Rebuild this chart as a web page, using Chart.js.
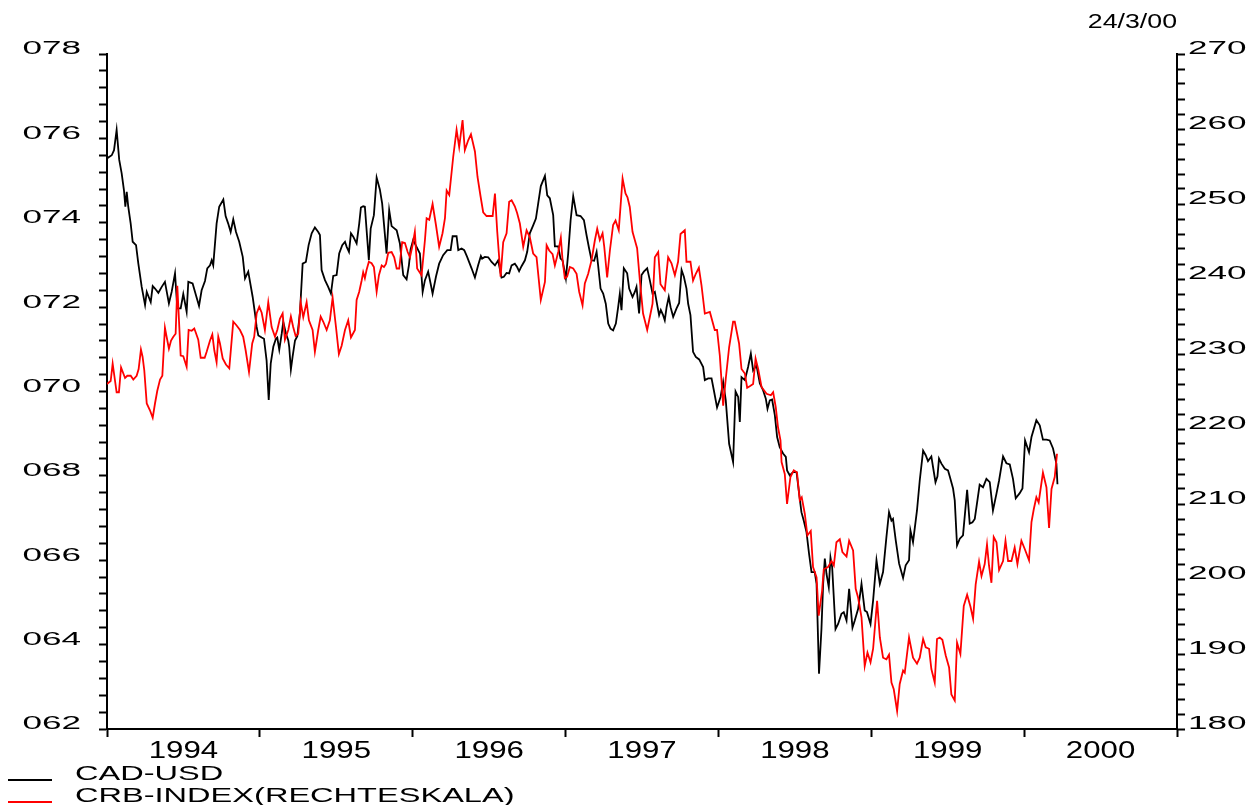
<!DOCTYPE html>
<html>
<head>
<meta charset="utf-8">
<title>CAD-USD vs CRB-Index</title>
<script src="https://cdn.jsdelivr.net/npm/chart.js@4.4.1/dist/chart.umd.min.js"></script>
<style>
  html, body { margin: 0; padding: 0; background: #fff; }
  #wrap { width: 1249px; height: 805px; }
</style>
</head>
<body>
<div id="wrap"><canvas id="chart" width="1249" height="805"></canvas></div>
<script>
// CAD-USD, weekly, left scale (decimal year, value)
const cadDates = [
  1994.002,1994.031,1994.046,1994.063,1994.080,1994.096,1994.111,1994.120,1994.129,1994.139,1994.155,1994.168,1994.190,1994.205,1994.227,1994.249,1994.260,1994.273,1994.286,1994.299,1994.314,1994.336,1994.358,1994.379,1994.405,1994.423,1994.445,1994.460,1994.482,1994.499,1994.521,1994.532,1994.560,1994.582,1994.602,1994.619,1994.641,1994.656,1994.674,1994.685,1994.695,1994.717,1994.734,1994.761,1994.776,1994.793,1994.809,1994.826,1994.844,1994.865,1994.888,1994.903,1994.924,1994.953,1994.968,1994.979,1994.990,
  1995.012,1995.027,1995.044,1995.058,1995.071,1995.088,1995.105,1995.114,1995.127,1995.143,1995.153,1995.171,1995.186,1995.192,1995.203,1995.214,1995.230,1995.245,1995.262,1995.280,1995.301,1995.319,1995.339,1995.360,1995.382,1995.393,1995.404,1995.426,1995.447,1995.465,1995.480,1995.502,1995.519,1995.539,1995.557,1995.568,1995.583,1995.596,1995.611,1995.633,1995.650,1995.661,1995.676,1995.687,1995.713,1995.725,1995.746,1995.764,1995.785,1995.800,1995.829,1995.846,1995.862,1995.895,1995.916,1995.938,1995.960,1995.975,1995.986,
  1996.003,1996.025,1996.047,1996.065,1996.080,1996.101,1996.117,1996.130,1996.152,1996.173,1996.199,1996.226,1996.248,1996.261,1996.287,1996.298,1996.320,1996.337,1996.356,1996.385,1996.407,1996.428,1996.446,1996.454,1996.472,1996.494,1996.516,1996.538,1996.559,1996.581,1996.596,1996.614,1996.631,1996.647,1996.668,1996.683,1996.696,1996.712,1996.734,1996.749,1996.766,1996.788,1996.806,1996.821,1996.838,1996.865,1996.880,1996.897,1996.919,1996.930,1996.952,1996.967,1996.980,
  1997.002,1997.017,1997.033,1997.050,1997.072,1997.098,1997.120,1997.137,1997.154,1997.170,1997.187,1997.203,1997.213,1997.229,1997.246,1997.263,1997.279,1997.294,1997.311,1997.329,1997.344,1997.355,1997.366,1997.381,1997.403,1997.416,1997.438,1997.453,1997.464,1997.481,1997.497,1997.512,1997.534,1997.551,1997.569,1997.584,1997.602,1997.612,1997.623,1997.638,1997.649,1997.661,1997.675,1997.687,1997.704,1997.726,1997.743,1997.759,1997.774,1997.791,1997.802,1997.817,1997.834,1997.852,1997.874,1997.900,1997.911,1997.933,1997.955,1997.970,1997.991,
  1998.014,1998.031,1998.048,1998.070,1998.096,1998.112,1998.129,1998.140,1998.151,1998.173,1998.194,1998.212,1998.227,1998.249,1998.271,1998.292,1998.310,1998.321,1998.336,1998.351,1998.369,1998.384,1998.401,1998.423,1998.441,1998.449,1998.467,1998.488,1998.511,1998.528,1998.543,1998.558,1998.576,1998.593,1998.609,1998.630,1998.642,1998.658,1998.674,1998.685,1998.696,1998.707,1998.722,1998.733,1998.744,1998.766,1998.783,1998.805,1998.820,1998.838,1998.855,1998.877,1998.892,1998.914,1998.936,1998.957,1998.972,1998.995,
  1999.012,1999.034,1999.056,1999.077,1999.099,1999.116,1999.132,1999.142,1999.160,1999.182,1999.208,1999.225,1999.247,1999.256,1999.273,1999.299,1999.317,1999.339,1999.356,1999.371,1999.393,1999.404,1999.420,1999.433,1999.443,1999.459,1999.481,1999.502,1999.513,1999.535,1999.546,1999.561,1999.579,1999.600,1999.627,1999.644,1999.662,1999.677,1999.709,1999.731,1999.753,1999.775,1999.796,1999.819,1999.836,1999.862,1999.884,1999.906,1999.927,1999.945,1999.971,1999.989,2000.006,2000.032,2000.048,2000.080,2000.102,2000.123,2000.146,2000.167,2000.189,2000.211,2000.218
];
const cadValues = [
  0.7553,0.7560,0.7572,0.7620,0.7549,0.7517,0.7477,0.7438,0.7473,0.7438,0.7398,0.7355,0.7347,0.7303,0.7248,0.7205,0.7236,0.7224,0.7212,0.7250,0.7244,0.7234,0.7248,0.7260,0.7209,0.7236,0.7280,0.7197,0.7197,0.7231,0.7189,0.7260,0.7256,0.7228,0.7203,0.7240,0.7262,0.7292,0.7299,0.7311,0.7299,0.7398,0.7438,0.7455,0.7416,0.7398,0.7378,0.7408,0.7378,0.7355,0.7319,0.7268,0.7284,0.7224,0.7185,0.7153,0.7133,
  0.7128,0.7125,0.7074,0.6980,0.7066,0.7106,0.7125,0.7128,0.7099,0.7137,0.7165,0.7137,0.7121,0.7106,0.7052,0.7082,0.7121,0.7131,0.7185,0.7303,0.7307,0.7347,0.7375,0.7389,0.7378,0.7371,0.7288,0.7264,0.7248,0.7232,0.7274,0.7276,0.7327,0.7347,0.7355,0.7343,0.7331,0.7375,0.7367,0.7351,0.7398,0.7436,0.7439,0.7438,0.7311,0.7386,0.7418,0.7507,0.7479,0.7446,0.7327,0.7430,0.7392,0.7382,0.7351,0.7276,0.7266,0.7299,0.7337,
  0.7359,0.7343,0.7327,0.7236,0.7264,0.7284,0.7256,0.7232,0.7272,0.7303,0.7323,0.7335,0.7335,0.7368,0.7368,0.7335,0.7339,0.7335,0.7319,0.7292,0.7270,0.7299,0.7321,0.7315,0.7319,0.7318,0.7307,0.7299,0.7311,0.7270,0.7272,0.7281,0.7280,0.7299,0.7303,0.7295,0.7285,0.7297,0.7311,0.7331,0.7375,0.7394,0.7410,0.7446,0.7487,0.7511,0.7465,0.7458,0.7418,0.7344,0.7344,0.7315,0.7311,
  0.7268,0.7327,0.7406,0.7463,0.7418,0.7416,0.7406,0.7371,0.7339,0.7311,0.7310,0.7331,0.7299,0.7244,0.7232,0.7208,0.7161,0.7149,0.7145,0.7161,0.7200,0.7232,0.7193,0.7292,0.7280,0.7244,0.7224,0.7236,0.7248,0.7185,0.7276,0.7284,0.7292,0.7264,0.7232,0.7236,0.7200,0.7181,0.7193,0.7181,0.7169,0.7200,0.7224,0.7200,0.7177,0.7197,0.7210,0.7288,0.7272,0.7244,0.7208,0.7181,0.7094,0.7082,0.7076,0.7058,0.7027,0.7031,0.7031,0.7003,0.6962,
  0.6987,0.7023,0.6979,0.6876,0.6833,0.7000,0.6987,0.6928,0.7034,0.7027,0.7058,0.7090,0.7050,0.7062,0.7019,0.7003,0.6983,0.6959,0.6979,0.6981,0.6944,0.6892,0.6868,0.6853,0.6845,0.6813,0.6801,0.6809,0.6809,0.6758,0.6714,0.6694,0.6667,0.6615,0.6572,0.6572,0.6544,0.6331,0.6437,0.6544,0.6604,0.6568,0.6536,0.6607,0.6584,0.6437,0.6449,0.6473,0.6477,0.6457,0.6532,0.6440,0.6457,0.6485,0.6544,0.6481,0.6477,0.6449,
  0.6505,0.6600,0.6544,0.6572,0.6655,0.6714,0.6694,0.6698,0.6647,0.6592,0.6558,0.6588,0.6600,0.6671,0.6643,0.6718,0.6789,0.6860,0.6849,0.6835,0.6846,0.6821,0.6785,0.6799,0.6841,0.6829,0.6817,0.6813,0.6799,0.6770,0.6742,0.6635,0.6651,0.6659,0.6767,0.6687,0.6690,0.6698,0.6779,0.6773,0.6793,0.6785,0.6718,0.6758,0.6789,0.6846,0.6830,0.6827,0.6793,0.6747,0.6759,0.6770,0.6884,0.6856,0.6892,0.6932,0.6920,0.6886,0.6886,0.6884,0.6865,0.6829,0.6780
];

// CRB index, weekly, right scale
const crbDates = [
  1994.000,1994.024,1994.037,1994.063,1994.078,1994.092,1994.107,1994.118,1994.133,1994.155,1994.172,1994.194,1994.207,1994.222,1994.233,1994.244,1994.260,1994.281,1994.299,1994.314,1994.329,1994.347,1994.362,1994.379,1994.390,1994.405,1994.419,1994.434,1994.449,1994.460,1994.482,1994.499,1994.521,1994.534,1994.554,1994.571,1994.580,1994.597,1994.613,1994.639,1994.652,1994.674,1994.689,1994.702,1994.717,1994.728,1994.739,1994.757,1994.778,1994.800,1994.826,1994.848,1994.870,1994.891,1994.907,1994.929,1994.950,1994.963,1994.979,1994.996,
  1995.012,1995.033,1995.055,1995.077,1995.099,1995.114,1995.131,1995.149,1995.164,1995.186,1995.203,1995.218,1995.234,1995.251,1995.267,1995.284,1995.306,1995.321,1995.345,1995.360,1995.382,1995.398,1995.415,1995.437,1995.458,1995.476,1995.498,1995.517,1995.535,1995.557,1995.578,1995.596,1995.622,1995.633,1995.650,1995.666,1995.676,1995.687,1995.698,1995.713,1995.731,1995.746,1995.764,1995.779,1995.797,1995.812,1995.825,1995.840,1995.862,1995.879,1995.895,1995.912,1995.931,1995.949,1995.967,1995.982,
  1995.999,1996.014,1996.029,1996.058,1996.080,1996.091,1996.108,1996.130,1996.152,1996.173,1996.195,1996.211,1996.222,1996.239,1996.265,1996.287,1996.304,1996.326,1996.341,1996.363,1996.381,1996.407,1996.424,1996.444,1996.461,1996.483,1996.523,1996.538,1996.553,1996.575,1996.592,1996.614,1996.631,1996.647,1996.668,1996.683,1996.701,1996.723,1996.745,1996.766,1996.788,1996.810,1996.838,1996.865,1996.876,1996.893,1996.915,1996.930,1996.952,1996.969,1996.980,1996.995,
  1997.010,1997.028,1997.050,1997.072,1997.089,1997.111,1997.126,1997.148,1997.170,1997.192,1997.207,1997.224,1997.242,1997.253,1997.272,1997.290,1997.311,1997.327,1997.348,1997.373,1997.392,1997.405,1997.420,1997.438,1997.453,1997.468,1997.486,1997.507,1997.534,1997.551,1997.569,1997.584,1997.606,1997.621,1997.649,1997.671,1997.693,1997.715,1997.736,1997.752,1997.780,1997.791,1997.817,1997.834,1997.852,1997.872,1997.889,1997.911,1997.944,1997.976,1997.991,
  1998.009,1998.020,1998.031,1998.048,1998.070,1998.096,1998.107,1998.135,1998.151,1998.173,1998.188,1998.205,1998.227,1998.243,1998.260,1998.282,1998.315,1998.343,1998.358,1998.375,1998.390,1998.406,1998.413,1998.434,1998.449,1998.471,1998.493,1998.514,1998.532,1998.545,1998.565,1998.582,1998.604,1998.619,1998.642,1998.656,1998.678,1998.689,1998.717,1998.740,1998.755,1998.772,1998.794,1998.811,1998.838,1998.855,1998.881,1998.898,1998.914,1998.936,1998.957,1998.975,1998.995,
  1999.012,1999.038,1999.056,1999.077,1999.099,1999.116,1999.132,1999.147,1999.169,1999.186,1999.208,1999.219,1999.247,1999.273,1999.299,1999.317,1999.339,1999.356,1999.378,1999.393,1999.415,1999.430,1999.448,1999.465,1999.487,1999.509,1999.524,1999.546,1999.561,1999.583,1999.605,1999.627,1999.649,1999.666,1999.683,1999.705,1999.721,1999.742,1999.757,1999.770,1999.786,1999.801,1999.819,1999.836,1999.862,1999.878,1999.895,1999.917,1999.938,1999.956,1999.982,2000.004,2000.032,2000.048,2000.063,2000.080,2000.095,2000.123,2000.146,2000.163,2000.179,2000.200,2000.215
];
const crbValues = [
  226.0,226.4,228.7,224.9,224.9,228.2,227.4,226.8,227.1,227.1,226.6,227.1,228.0,230.6,229.6,227.8,223.4,222.5,221.5,223.4,225.1,226.6,227.1,233.5,232.3,230.7,231.8,232.3,232.7,239.1,229.8,229.7,228.3,233.2,233.1,233.4,232.9,231.9,229.5,229.5,230.3,231.8,232.6,230.5,228.9,232.3,231.4,229.4,228.6,228.1,234.3,233.8,233.2,232.3,230.5,227.6,231.4,232.3,235.4,236.3,
  235.5,233.2,236.9,233.6,232.3,233.2,234.7,235.4,231.9,233.2,235.0,233.6,232.4,232.7,236.9,234.9,236.9,234.5,233.2,230.3,233.2,235.0,234.3,233.2,234.5,237.5,233.6,230.0,231.1,233.2,234.5,232.2,233.2,237.2,238.3,239.8,240.9,240.1,241.2,242.3,242.1,241.6,238.3,240.5,241.8,241.6,242.0,243.5,243.6,242.9,241.4,241.4,244.9,244.8,243.6,242.9,
  244.5,246.3,241.4,240.5,245.2,248.1,247.9,250.0,247.2,244.3,246.1,248.1,251.8,251.2,256.3,259.9,257.6,261.2,257.2,258.5,259.3,257.0,253.6,251.0,248.9,248.4,248.4,251.4,246.3,240.3,244.9,246.1,250.3,250.5,249.7,248.8,247.4,244.3,246.5,245.6,243.4,242.9,237.2,239.6,244.5,243.8,243.3,241.8,243.6,245.5,242.6,240.1,
  240.3,241.6,241.4,240.7,238.3,236.5,239.4,240.7,242.5,245.2,246.7,245.2,246.1,244.3,240.2,243.8,247.2,247.8,246.5,253.4,251.4,250.9,249.6,246.3,245.2,244.1,239.8,235.4,233.2,234.9,236.7,242.9,243.6,239.3,238.5,242.9,242.1,240.5,242.3,246.0,246.5,242.3,242.3,239.8,240.7,241.5,239.2,235.4,235.6,233.2,233.2,
  229.8,226.5,223.1,226.7,230.9,234.3,234.3,231.4,228.0,227.4,225.5,225.7,226.0,229.4,228.0,225.6,224.7,224.5,224.9,222.9,220.2,218.5,215.6,214.0,210.0,213.6,214.5,214.2,210.5,210.9,208.7,205.8,206.4,201.6,200.2,195.1,198.4,201.3,201.6,202.4,201.8,204.9,205.3,203.6,203.0,205.1,203.8,198.7,197.5,194.9,188.4,190.2,188.9,
  190.7,197.1,192.2,189.5,189.3,189.9,186.2,185.3,182.4,186.0,187.8,187.5,192.2,189.5,188.7,189.5,192.0,190.9,190.7,188.0,186.2,192.0,192.2,191.9,189.8,188.2,184.6,183.8,191.5,190.0,196.4,197.9,196.3,194.7,199.3,202.3,200.4,202.0,204.6,201.8,199.5,205.6,204.9,201.2,202.4,205.1,202.4,202.4,204.2,202.0,205.1,204.0,202.5,207.6,209.3,210.9,210.2,214.2,212.2,206.8,212.0,213.6,216.7
];

const seriesNames = ['CAD-USD', 'CRB-INDEX(RECHTESKALA)'];
const yearTicks = [1994, 1995, 1996, 1997, 1998, 1999, 2000, 2001];
const yearLabels = ['1994', '1995', '1996', '1997', '1998', '1999', '2000'];
const leftTicks = [0.62, 0.64, 0.66, 0.68, 0.70, 0.72, 0.74, 0.76, 0.78];
const leftLabels = ['062', '064', '066', '068', '070', '072', '074', '076', '078'];
const rightTicks = [180, 190, 200, 210, 220, 230, 240, 250, 260, 270];
const rightLabels = ['180', '190', '200', '210', '220', '230', '240', '250', '260', '270'];
const dateStamp = '24/3/00';

if (cadDates.length !== cadValues.length || crbDates.length !== crbValues.length) {
  console.warn('series length mismatch', cadDates.length, cadValues.length, crbDates.length, crbValues.length);
}

const FONT = '"Liberation Sans", Arial, sans-serif';

// text in the original is drawn horizontally stretched
function wideText(ctx, text, x, y, size, sx, align) {
  ctx.save();
  ctx.font = size + 'px ' + FONT;
  ctx.textBaseline = 'middle';
  ctx.textAlign = 'left';
  const w = ctx.measureText(text).width * sx;
  let left = x;
  if (align === 'right') left = x - w;
  if (align === 'center') left = x - w / 2;
  ctx.translate(left, y);
  ctx.scale(sx, 1);
  ctx.fillText(text, 0, 0);
  ctx.restore();
}

function minorTicks(min, max, step) {
  const out = [];
  const n = Math.round((max - min) / step);
  for (let i = 0; i <= n; i++) out.push({ value: +(min + i * step).toFixed(6) });
  return out;
}

const labelPlugin = {
  id: 'wideLabels',
  afterDraw(chart) {
    const ctx = chart.ctx;
    const { x, y, y2 } = chart.scales;
    ctx.save();
    ctx.fillStyle = '#000';
    leftTicks.forEach((v, i) => {
      wideText(ctx, leftLabels[i], y.right - 26, y.getPixelForValue(v) - 4.5, 18, 1.95, 'right');
    });
    rightTicks.forEach((v, i) => {
      wideText(ctx, rightLabels[i], y2.left + 11, y2.getPixelForValue(v) - 4.5, 18, 1.95, 'left');
    });
    yearLabels.forEach((lab, i) => {
      wideText(ctx, lab, x.getPixelForValue(yearTicks[i] + 0.5), x.top + 22, 24, 1.3, 'center');
    });
    wideText(ctx, dateStamp, y2.left, 23, 19.5, 1.37, 'right');

    // legend, bottom left
    const colors = ['#000000', '#ff0000'];
    const rows = [774, 796];
    seriesNames.forEach((name, i) => {
      ctx.strokeStyle = colors[i];
      ctx.lineWidth = 2;
      ctx.beginPath();
      ctx.moveTo(8, rows[i] + 6);
      ctx.lineTo(52, rows[i] + 6);
      ctx.stroke();
      wideText(ctx, name, 75, rows[i], 21, 1.55, 'left');
    });
    ctx.restore();
  }
};

const axisGrid = {
  display: true,
  drawOnChartArea: false,
  drawTicks: true,
  tickLength: 8,
  tickColor: '#000',
  tickWidth: 2,
  color: '#000'
};
const axisBorder = { display: true, color: '#000', width: 2 };

new Chart(document.getElementById('chart'), {
  type: 'line',
  data: {
    datasets: [
      {
        label: seriesNames[0],
        data: cadDates.map((d, i) => ({ x: d, y: cadValues[i] })),
        borderColor: '#000000',
        borderWidth: 1.8,
        pointRadius: 0,
        tension: 0,
        yAxisID: 'y',
        order: 1
      },
      {
        label: seriesNames[1],
        data: crbDates.map((d, i) => ({ x: d, y: crbValues[i] })),
        borderColor: '#ff0000',
        borderWidth: 1.8,
        pointRadius: 0,
        tension: 0,
        yAxisID: 'y2',
        order: 0
      }
    ]
  },
  options: {
    responsive: false,
    animation: false,
    events: [],
    layout: { padding: { top: 54, left: 0, right: 0, bottom: 0 } },
    plugins: { legend: { display: false }, tooltip: { enabled: false } },
    scales: {
      x: {
        type: 'linear',
        min: 1994,
        max: 2001,
        grid: axisGrid,
        border: axisBorder,
        ticks: { display: false },
        afterBuildTicks: s => { s.ticks = yearTicks.map(v => ({ value: v })); },
        afterFit: s => { s.height = 76; }
      },
      y: {
        type: 'linear',
        position: 'left',
        min: 0.62,
        max: 0.78,
        grid: axisGrid,
        border: axisBorder,
        ticks: { display: false },
        afterBuildTicks: s => { s.ticks = minorTicks(0.62, 0.78, 0.004); },
        afterFit: s => { s.width = 107; }
      },
      y2: {
        type: 'linear',
        position: 'right',
        min: 180,
        max: 270,
        grid: axisGrid,
        border: axisBorder,
        ticks: { display: false },
        afterBuildTicks: s => { s.ticks = minorTicks(180, 270, 2); },
        afterFit: s => { s.width = 72; }
      }
    }
  },
  plugins: [labelPlugin]
});
</script>
</body>
</html>
